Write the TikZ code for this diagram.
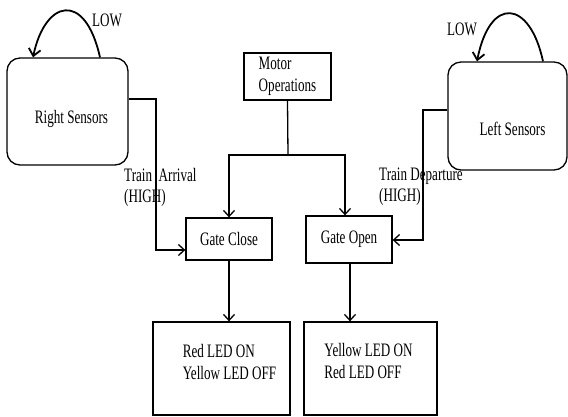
\documentclass[tikz,border=0pt]{standalone}
\usepackage{fontspec}
\setmainfont{Liberation Serif}[FakeStretch=0.69]
\usetikzlibrary{arrows.meta}
\begin{document}
\begin{tikzpicture}[x=1pt,y=-1pt,
  box/.style={draw,line width=1.3pt,inner sep=0pt},
  rbox/.style={box,rounded corners=13pt},
  txt/.style={inner sep=0pt,align=left,font=\fontsize{19}{22.5}\selectfont},
  line/.style={line width=1.3pt},
  arr/.style={line,-{Straight Barb[length=6pt,width=11pt,line width=1.3pt]}},
  loop/.style={line width=1.8pt,-{Straight Barb[length=7pt,width=12pt,line width=1.8pt]}}
]
\useasboundingbox (0,0) rectangle (568,416);
% boxes
\node[rbox,minimum width=121pt,minimum height=107pt] (rs) at (67.5,111.5) {};
\node[rbox,minimum width=119pt,minimum height=108pt] (ls) at (507.5,116) {};
\node[txt] (rst) at (71.5,119) {Right Sensors};
\node[txt] (lst) at (512.5,129) {Left Sensors};
\node[box,minimum width=87pt,minimum height=47pt,txt] (mo) at (287.5,76.5) {Motor\\Operations};
\node[box,minimum width=86pt,minimum height=42pt,txt] (gc) at (229,239) {Gate Close};
\node[box,minimum width=86pt,minimum height=47pt,txt] (go) at (349,239.5) {Gate Open};
\node[box,minimum width=137pt,minimum height=93pt] (red) at (221.5,368.5) {};
\node[box,minimum width=133pt,minimum height=93pt] (yel) at (370.5,368.5) {};
\node[txt] (redt) at (229.5,362) {Red LED ON\\Yellow LED OFF};
\node[txt] (yelt) at (368.5,361) {Yellow LED ON\\Red LED OFF};
% labels
\node[txt,anchor=west] (low1) at (92,20) {LOW};
\node[txt,anchor=west] (low2) at (447,29) {LOW};
\node[txt,anchor=west,font=\fontsize{19}{21}\selectfont] (ta) at (124,187) {Train\ \ Arrival\\(HIGH)};
\node[txt,anchor=west,font=\fontsize{19}{21}\selectfont] (td) at (379,187) {Train Departure\\(HIGH)};
% connectors
\coordinate (j) at (288,155);
\draw[line] (mo.south) -- (j);
\draw[arr] (j) -| (gc.north);
\draw[arr] (j) -| ([xshift=-4pt]go.north);
\draw[arr] (gc.south) -- (gc.south |- red.north);
\draw[arr] ([xshift=1pt]go.south) -- ([xshift=1pt]go.south |- yel.north);
\draw[arr] (rs.east |- 0,99) -| (156,250) -- (gc.west |- 0,250);
\draw[arr] (ls.west |- 0,110) -| (423,240) -- (go.east |- 0,240);
\draw[loop] (rs.north -| 100,0) .. controls (85,-10) and (45,0) .. (rs.north -| 33,0);
\draw[loop] (ls.north -| 543,0) .. controls (530,0) and (490,-5) .. (ls.north -| 477,0);
\end{tikzpicture}
\end{document}
